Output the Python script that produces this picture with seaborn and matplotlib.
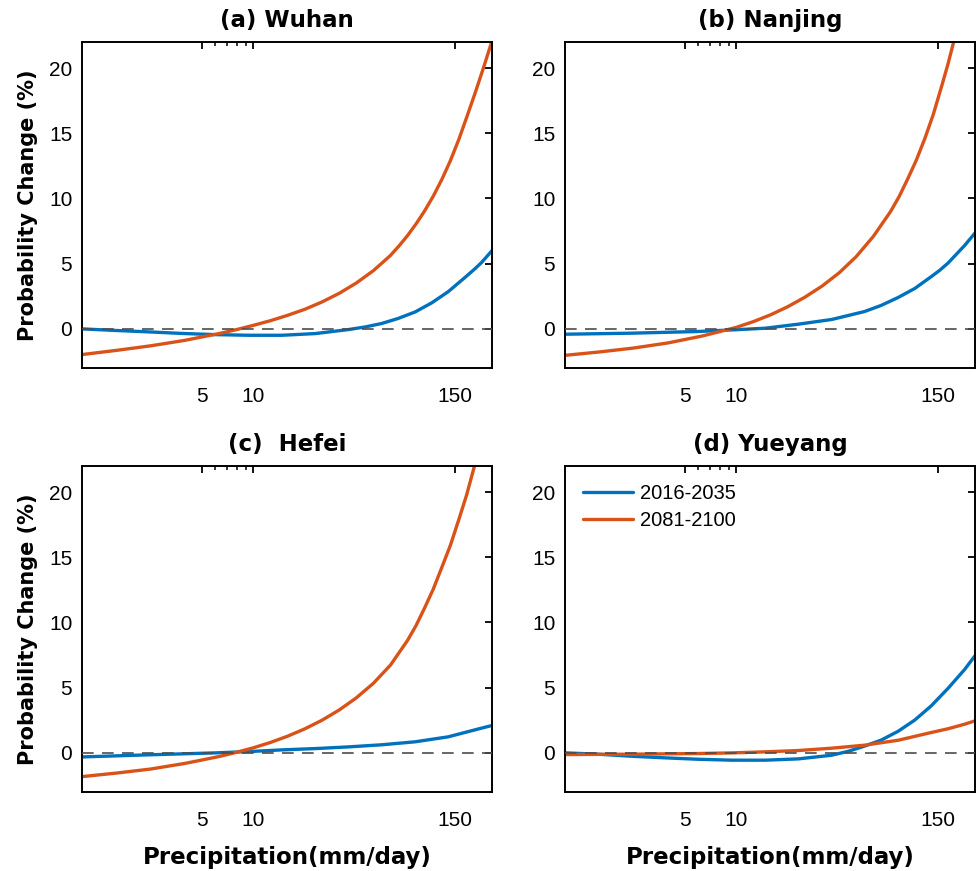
import matplotlib
matplotlib.use("Agg")
import matplotlib.pyplot as plt
import pandas as pd
import seaborn as sns
from matplotlib.ticker import FixedLocator, NullFormatter

# ---------------- data ----------------
periods = ["2016-2035", "2081-2100"]
titles = ["(a) Wuhan", "(b) Nanjing", "(c)  Hefei", "(d) Yueyang"]

wuhan_x_blue = [1, 1.56, 2.45, 3.83, 6.0, 9.4, 14.7, 23, 36, 45, 56, 70, 88, 110, 137, 172, 196, 215, 247]
wuhan_y_blue = [0.0, -0.12, -0.23, -0.35, -0.44, -0.49, -0.49, -0.36, -0.05, 0.15, 0.41, 0.8, 1.3, 2.0, 2.85, 3.95, 4.6, 5.1, 6.0]
wuhan_x_orange = [1, 1.585, 2.512, 3.981, 6.31, 7.943, 10, 12.59, 15.85, 19.95, 25.12, 31.62, 39.81, 50.12,
                  63.1, 70.79, 79.43, 89.13, 100, 112.2, 125.9, 141.3, 158.5, 177.8, 199.5, 223.9, 247.2]
wuhan_y_orange = [-1.97, -1.65, -1.30, -0.88, -0.36, -0.06, 0.27, 0.63, 1.04, 1.50, 2.06, 2.72, 3.51, 4.46,
                  5.63, 6.36, 7.16, 8.06, 9.06, 10.18, 11.46, 12.91, 14.56, 16.41, 18.31, 20.31, 22.1]

nanjing_x_blue = [1, 2.45, 6.0, 9.4, 14.7, 23, 36, 56, 70, 88, 110, 137, 154, 172, 215, 247]
nanjing_y_blue = [-0.41, -0.33, -0.2, -0.08, 0.05, 0.36, 0.72, 1.33, 1.8, 2.41, 3.1, 4.0, 4.5, 5.05, 6.4, 7.35]
nanjing_x_orange = [1, 1.585, 2.512, 3.981, 6.31, 7.943, 10, 12.59, 15.85, 19.95, 25.12, 31.62, 39.81, 50.12,
                    63.1, 79.43, 89.13, 100, 112.2, 125.9, 141.3, 158.5, 171.8, 186.2]
nanjing_y_orange = [-2.03, -1.77, -1.47, -1.08, -0.55, -0.22, 0.12, 0.56, 1.08, 1.70, 2.43, 3.28, 4.30, 5.55,
                    7.1, 9.0, 10.15, 11.5, 12.93, 14.6, 16.48, 18.7, 20.31, 22.1]

hefei_x_blue = [1, 2.45, 6.0, 9.4, 14.7, 23, 36, 56, 88, 137, 215, 247]
hefei_y_blue = [-0.31, -0.15, 0.0, 0.1, 0.23, 0.33, 0.46, 0.62, 0.85, 1.23, 1.9, 2.1]
hefei_x_orange = [1, 1.585, 2.512, 3.981, 6.31, 7.943, 10, 12.59, 15.85, 19.95, 25.12, 31.62, 39.81, 50.12,
                  63.1, 79.43, 89.13, 100, 112.2, 125.9, 141.3, 158.5, 175.8, 195]
hefei_y_orange = [-1.82, -1.55, -1.24, -0.81, -0.28, 0.04, 0.39, 0.80, 1.28, 1.84, 2.50, 3.28, 4.21, 5.33,
                  6.73, 8.63, 9.78, 11.13, 12.56, 14.23, 15.93, 17.93, 19.8, 21.98]

yueyang_x_blue = [1, 1.56, 2.45, 3.83, 6.0, 9.4, 14.7, 23, 36, 45, 56, 70, 88, 110, 137, 172, 215, 247]
yueyang_y_blue = [0.0, -0.1, -0.26, -0.38, -0.49, -0.56, -0.56, -0.46, -0.18, 0.12, 0.52, 0.98, 1.66, 2.52, 3.6, 4.95, 6.4, 7.45]
yueyang_x_orange = [1, 2.45, 6.0, 9.4, 14.7, 23, 36, 56, 88, 137, 172, 215, 247]
yueyang_y_orange = [-0.13, -0.1, -0.05, 0.0, 0.08, 0.18, 0.36, 0.59, 0.97, 1.56, 1.85, 2.2, 2.46]

x_major_ticks = [5, 10, 150]
x_major_labels = ["5", "10", "150"]
x_minor_ticks = [6, 7, 8, 9]
y_ticks = [0, 5, 10, 15, 20]

panels = [
    (wuhan_x_blue, wuhan_y_blue, wuhan_x_orange, wuhan_y_orange),
    (nanjing_x_blue, nanjing_y_blue, nanjing_x_orange, nanjing_y_orange),
    (hefei_x_blue, hefei_y_blue, hefei_x_orange, hefei_y_orange),
    (yueyang_x_blue, yueyang_y_blue, yueyang_x_orange, yueyang_y_orange),
]

# ---------------- style ----------------
sns.set_theme(style="white")
plt.rcParams["font.family"] = ["Liberation Sans", "DejaVu Sans"]
plt.rcParams["axes.edgecolor"] = "black"
plt.rcParams["axes.linewidth"] = 1.4
plt.rcParams["text.color"] = "black"
plt.rcParams["axes.labelcolor"] = "black"
plt.rcParams["axes.titlecolor"] = "black"
plt.rcParams["xtick.color"] = "black"
plt.rcParams["ytick.color"] = "black"
plt.rcParams["xtick.labelcolor"] = "black"
plt.rcParams["ytick.labelcolor"] = "black"
palette = {periods[0]: "#0072BD", periods[1]: "#D95319"}

fig = plt.figure(figsize=(9.78, 8.71), dpi=100)
W, H = 978, 871
positions = [(82, 42), (565, 42), (82, 466), (565, 466)]
aw, ah = 410, 326

for i, ((xb, yb, xo, yo), (left, top)) in enumerate(zip(panels, positions)):
    ax = fig.add_axes([left / W, (H - top - ah) / H, aw / W, ah / H])
    df = pd.concat([
        pd.DataFrame({"x": xb, "y": yb, "period": periods[0]}),
        pd.DataFrame({"x": xo, "y": yo, "period": periods[1]}),
    ], ignore_index=True)
    sns.lineplot(data=df, x="x", y="y", hue="period", palette=palette,
                 estimator=None, linewidth=2.4, ax=ax, legend=(i == 3))
    ax.axhline(0, color="#4d4d4d", lw=1.2, ls=(0, (7, 5)), zorder=3)
    ax.set_xscale("log")
    ax.set_xlim(1, 247)
    ax.set_ylim(-3, 22)
    ax.xaxis.set_major_locator(FixedLocator(x_major_ticks))
    ax.set_xticklabels(x_major_labels)
    ax.xaxis.set_minor_locator(FixedLocator(x_minor_ticks))
    ax.xaxis.set_minor_formatter(NullFormatter())
    ax.set_yticks(y_ticks)
    ax.tick_params(which="both", direction="in", top=True, right=True,
                   colors="black", labelcolor="black", labelsize=15)
    ax.tick_params(which="major", length=5, width=1.3)
    ax.tick_params(which="minor", length=3, width=1.1)
    ax.tick_params(axis="x", which="major", pad=14)
    ax.tick_params(axis="y", which="major", pad=7)
    for s in ax.spines.values():
        s.set_visible(True)
        s.set_color("black")
    ax.set_title(titles[i], fontsize=16.5, fontweight="bold",
                 family="DejaVu Sans", pad=11, color="black")
    if i in (0, 2):
        ax.set_ylabel("Probability Change (%)", fontsize=15, fontweight="bold",
                      family="DejaVu Sans", labelpad=8, color="black")
    else:
        ax.set_ylabel("")
    if i in (2, 3):
        ax.set_xlabel("Precipitation(mm/day)", fontsize=16.5, fontweight="bold",
                      family="DejaVu Sans", labelpad=11, color="black")
    else:
        ax.set_xlabel("")
    if i == 3:
        leg = ax.get_legend()
        handles = leg.legend_handles
        labels = [t.get_text() for t in leg.get_texts()]
        for h in handles:
            h.set_linewidth(2.4)
        ax.legend(handles, labels, loc="upper left", frameon=False,
                  fontsize=14.5, handlelength=2.5, handletextpad=0.3,
                  labelspacing=0.4, labelcolor="black")

fig.savefig("out.png", dpi=100)
